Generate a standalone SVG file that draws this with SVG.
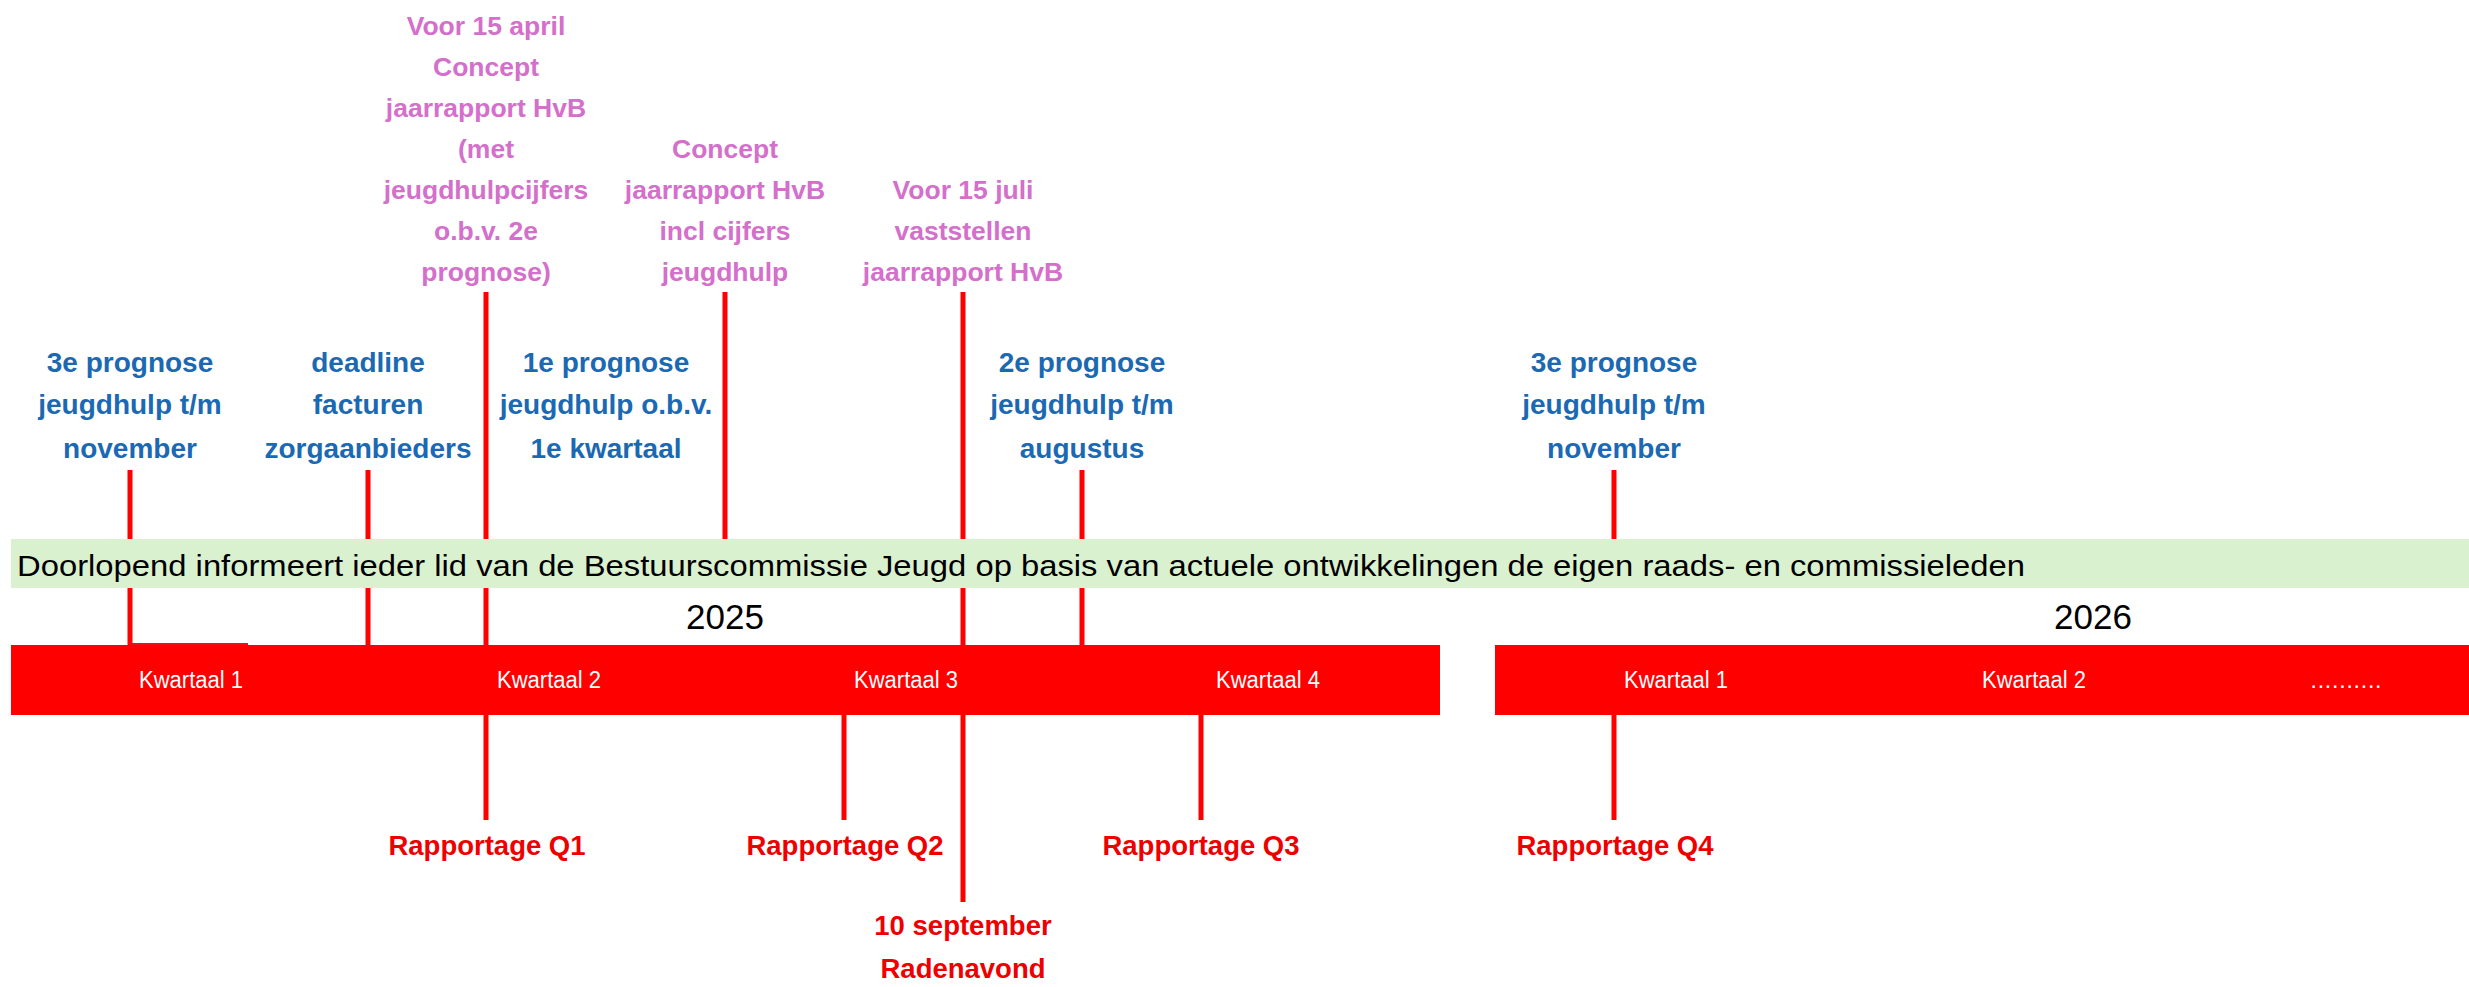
<svg xmlns="http://www.w3.org/2000/svg" width="2469" height="987" viewBox="0 0 2469 987">
<style>
.bg{fill:#ffffff}
.ln{stroke:#ff0000;stroke-width:5;fill:none}
.pink{font-family:"Liberation Sans",Arial,sans-serif;font-weight:bold;font-size:26.5px;fill:#d46fcb;text-anchor:middle}
.blue{font-family:"Liberation Sans",Arial,sans-serif;font-weight:bold;font-size:28px;fill:#1b69b3;text-anchor:middle}
.red{font-family:"Liberation Sans",Arial,sans-serif;font-weight:bold;font-size:27.5px;fill:#ee0000;text-anchor:middle}
.kw{font-family:"Liberation Sans",Arial,sans-serif;font-size:23px;fill:#ffffff;text-anchor:middle}
.yr{font-family:"Liberation Sans",Arial,sans-serif;font-size:35px;fill:#000000;text-anchor:middle}
.band{font-family:"Liberation Sans",Arial,sans-serif;font-size:29px;fill:#000000}
</style>
<rect class="bg" x="0" y="0" width="2469" height="987"/>
<g id="connectors">
<line class="ln" x1="130" y1="470" x2="130" y2="645"/>
<line class="ln" x1="368" y1="470" x2="368" y2="645"/>
<line class="ln" x1="486" y1="292" x2="486" y2="820"/>
<line class="ln" x1="725" y1="292" x2="725" y2="540"/>
<line class="ln" x1="963" y1="292" x2="963" y2="902"/>
<line class="ln" x1="1082" y1="470" x2="1082" y2="645"/>
<line class="ln" x1="1614" y1="470" x2="1614" y2="540"/>
<line class="ln" x1="844" y1="715" x2="844" y2="820"/>
<line class="ln" x1="1201" y1="715" x2="1201" y2="820"/>
<line class="ln" x1="1614" y1="715" x2="1614" y2="820"/>
</g>
<g id="band">
<rect x="11" y="539" width="2458" height="49" fill="#daf1d0"/>
<text class="band" x="17" y="576" textLength="2008" lengthAdjust="spacingAndGlyphs">Doorlopend informeert ieder lid van de Bestuurscommissie Jeugd op basis van actuele ontwikkelingen de eigen raads- en commissieleden</text>
</g>
<g id="year2025">
<text class="yr" x="725" y="629">2025</text>
<rect x="11" y="645" width="1429" height="70" fill="#ff0000"/>
<line x1="132" y1="644" x2="248" y2="644" stroke="#f01010" stroke-width="2"/>
<text class="kw" x="191" y="688" textLength="104" lengthAdjust="spacingAndGlyphs">Kwartaal 1</text>
<text class="kw" x="549" y="688" textLength="104" lengthAdjust="spacingAndGlyphs">Kwartaal 2</text>
<text class="kw" x="906" y="688" textLength="104" lengthAdjust="spacingAndGlyphs">Kwartaal 3</text>
<text class="kw" x="1268" y="688" textLength="104" lengthAdjust="spacingAndGlyphs">Kwartaal 4</text>
</g>
<g id="year2026">
<text class="yr" x="2093" y="629">2026</text>
<rect x="1495" y="645" width="974" height="70" fill="#ff0000"/>
<text class="kw" x="1676" y="688" textLength="104" lengthAdjust="spacingAndGlyphs">Kwartaal 1</text>
<text class="kw" x="2034" y="688" textLength="104" lengthAdjust="spacingAndGlyphs">Kwartaal 2</text>
<text class="kw" x="2346" y="688" textLength="71" lengthAdjust="spacing">..........</text>
</g>
<g id="pink-concept-april">
<text class="pink" x="486" y="35">Voor 15 april</text>
<text class="pink" x="486" y="76">Concept</text>
<text class="pink" x="486" y="117">jaarrapport HvB</text>
<text class="pink" x="486" y="158">(met</text>
<text class="pink" x="486" y="199">jeugdhulpcijfers</text>
<text class="pink" x="486" y="240">o.b.v. 2e</text>
<text class="pink" x="486" y="281">prognose)</text>
</g>
<g id="pink-concept-incl">
<text class="pink" x="725" y="158">Concept</text>
<text class="pink" x="725" y="199">jaarrapport HvB</text>
<text class="pink" x="725" y="240">incl cijfers</text>
<text class="pink" x="725" y="281">jeugdhulp</text>
</g>
<g id="pink-juli">
<text class="pink" x="963" y="199">Voor 15 juli</text>
<text class="pink" x="963" y="240">vaststellen</text>
<text class="pink" x="963" y="281">jaarrapport HvB</text>
</g>
<g id="blue-3e-2025">
<text class="blue" x="130" y="372">3e prognose</text>
<text class="blue" x="130" y="414">jeugdhulp t/m</text>
<text class="blue" x="130" y="458">november</text>
</g>
<g id="blue-deadline">
<text class="blue" x="368" y="372">deadline</text>
<text class="blue" x="368" y="414">facturen</text>
<text class="blue" x="368" y="458">zorgaanbieders</text>
</g>
<g id="blue-1e">
<text class="blue" x="606" y="372">1e prognose</text>
<text class="blue" x="606" y="414">jeugdhulp o.b.v.</text>
<text class="blue" x="606" y="458">1e kwartaal</text>
</g>
<g id="blue-2e">
<text class="blue" x="1082" y="372">2e prognose</text>
<text class="blue" x="1082" y="414">jeugdhulp t/m</text>
<text class="blue" x="1082" y="458">augustus</text>
</g>
<g id="blue-3e-2026">
<text class="blue" x="1614" y="372">3e prognose</text>
<text class="blue" x="1614" y="414">jeugdhulp t/m</text>
<text class="blue" x="1614" y="458">november</text>
</g>
<g id="rap-q1"><text class="red" x="487" y="855">Rapportage Q1</text></g>
<g id="rap-q2"><text class="red" x="845" y="855">Rapportage Q2</text></g>
<g id="rap-q3"><text class="red" x="1201" y="855">Rapportage Q3</text></g>
<g id="rap-q4"><text class="red" x="1615" y="855">Rapportage Q4</text></g>
<g id="radenavond">
<text class="red" x="963" y="935">10 september</text>
<text class="red" x="963" y="978">Radenavond</text>
</g>
</svg>
